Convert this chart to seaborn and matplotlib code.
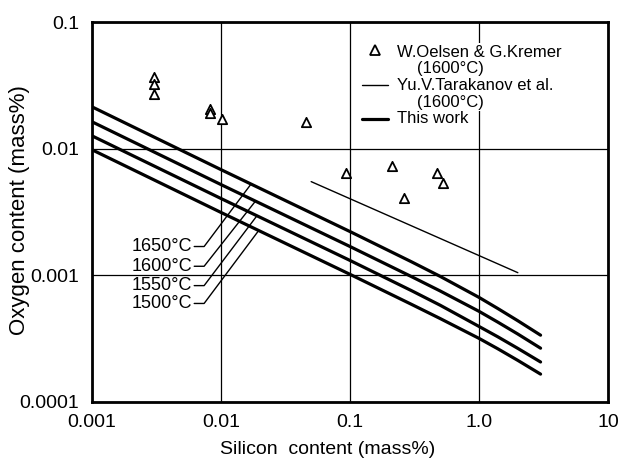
import matplotlib
matplotlib.use("Agg")
import matplotlib.pyplot as plt
import matplotlib.ticker as mticker
import numpy as np
import pandas as pd
import seaborn as sns

# calculated curves (this work): silicon content vs oxygen content
si_calc = [0.001, 0.01, 0.1, 0.3, 0.5, 1.0, 1.4, 2.0, 3.0]
o_1650 = [0.02143, 0.00684, 0.002218, 0.001279, 0.000982, 0.000670, 0.000547, 0.000438, 0.000337]
o_1600 = [0.01633, 0.005212, 0.00169, 0.000977, 0.000753, 0.000520, 0.000427, 0.000344, 0.000266]
o_1550 = [0.01265, 0.004046, 0.001312, 0.000757, 0.000581, 0.000395, 0.000327, 0.000265, 0.000207]
o_1500 = [0.00982, 0.00314, 0.001019, 0.000590, 0.000456, 0.000318, 0.000263, 0.000213, 0.000166]
temps = ["1650°C", "1600°C", "1550°C", "1500°C"]

# W.Oelsen & G.Kremer (1600°C)
si_oelsen = [0.003, 0.003, 0.003, 0.0082, 0.0082, 0.0101, 0.046, 0.093, 0.21, 0.26, 0.47, 0.53]
o_oelsen = [0.0369, 0.0325, 0.0271, 0.0205, 0.0190, 0.0172, 0.0163, 0.0064, 0.0073, 0.0041, 0.0064, 0.0054]

# Yu.V.Tarakanov et al. (1600°C)
si_tarak = [0.05, 2.0]
o_tarak = [0.0055, 0.00105]

# temperature labels at the left of the curves
lab_y = [0.00169, 0.00118, 0.00083, 0.0006]
lead_end_x = [0.0171, 0.0185, 0.019, 0.0196]

calc = pd.DataFrame({
    "si": si_calc * 4,
    "o": o_1650 + o_1600 + o_1550 + o_1500,
    "T": [t for t in temps for _ in si_calc],
})

sns.set_style("white", rc={"text.color": "black", "axes.labelcolor": "black",
                           "xtick.color": "black", "ytick.color": "black"})
plt.rcParams["font.family"] = ["Liberation Sans", "DejaVu Sans"]

fig = plt.figure(figsize=(6.24, 4.61), dpi=100)
ax = fig.add_axes([0.1474, 0.128, 0.827, 0.824])

ax.set_xscale("log")
ax.set_yscale("log")

sns.lineplot(data=calc, x="si", y="o", hue="T", palette=["black"] * 4,
             linewidth=2.3, legend=False, ax=ax, sort=False)
ax.plot(si_tarak, o_tarak, color="black", lw=1.0)
sns.scatterplot(x=si_oelsen, y=o_oelsen, marker="^", s=45, facecolor="white",
                edgecolor="black", linewidth=1.3, ax=ax, zorder=5)

# temperature labels with leader lines
curves = [o_1650, o_1600, o_1550, o_1500]
for t, ly, ex, cv in zip(temps, lab_y, lead_end_x, curves):
    ey = 10 ** np.interp(np.log10(ex), np.log10(si_calc), np.log10(cv))
    ax.plot([0.0062, 0.0074, ex], [ly, ly, ey], color="black", lw=1.0)
    ax.text(0.006, ly, t, ha="right", va="center", fontsize=13)

ax.set_xlim(0.001, 10)
ax.set_ylim(0.0001, 0.1)
ax.xaxis.set_major_locator(mticker.FixedLocator([0.001, 0.01, 0.1, 1.0, 10]))
ax.xaxis.set_major_formatter(mticker.FixedFormatter(["0.001", "0.01", "0.1", "1.0", "10"]))
ax.yaxis.set_major_locator(mticker.FixedLocator([0.0001, 0.001, 0.01, 0.1]))
ax.yaxis.set_major_formatter(mticker.FixedFormatter(["0.0001", "0.001", "0.01", "0.1"]))
ax.xaxis.set_minor_locator(mticker.NullLocator())
ax.yaxis.set_minor_locator(mticker.NullLocator())
ax.tick_params(length=0, labelsize=14, pad=9)

ax.grid(True, which="major", color="black", lw=0.9)
for s in ax.spines.values():
    s.set_linewidth(2)
    s.set_color("black")

ax.set_xlabel("Silicon  content (mass%)", fontsize=14, va="center")
ax.set_ylabel("Oxygen content (mass%)", fontsize=16, va="center")
ax.xaxis.set_label_coords(0.457, -0.124)
ax.yaxis.set_label_coords(-0.14, 0.505)

# legend drawn by hand
tr = ax.transAxes
bg = dict(facecolor="white", edgecolor="none", pad=1)
ax.plot([0.548], [0.926], marker="^", ms=7, mfc="white", mec="black", mew=1.3,
        transform=tr, clip_on=False)
ax.text(0.591, 0.921, "W.Oelsen & G.Kremer", transform=tr, fontsize=12, va="center", bbox=bg)
ax.text(0.630, 0.878, "(1600°C)", transform=tr, fontsize=12, va="center", bbox=bg)
ax.plot([0.523, 0.574], [0.834, 0.834], color="black", lw=1.0, transform=tr)
ax.text(0.591, 0.834, "Yu.V.Tarakanov et al.", transform=tr, fontsize=12, va="center", bbox=bg)
ax.text(0.630, 0.789, "(1600°C)", transform=tr, fontsize=12, va="center", bbox=bg)
ax.plot([0.523, 0.574], [0.745, 0.745], color="black", lw=2.3, transform=tr)
ax.text(0.591, 0.745, "This work", transform=tr, fontsize=12, va="center", bbox=bg)

fig.savefig("out.png", dpi=100, facecolor="white")
